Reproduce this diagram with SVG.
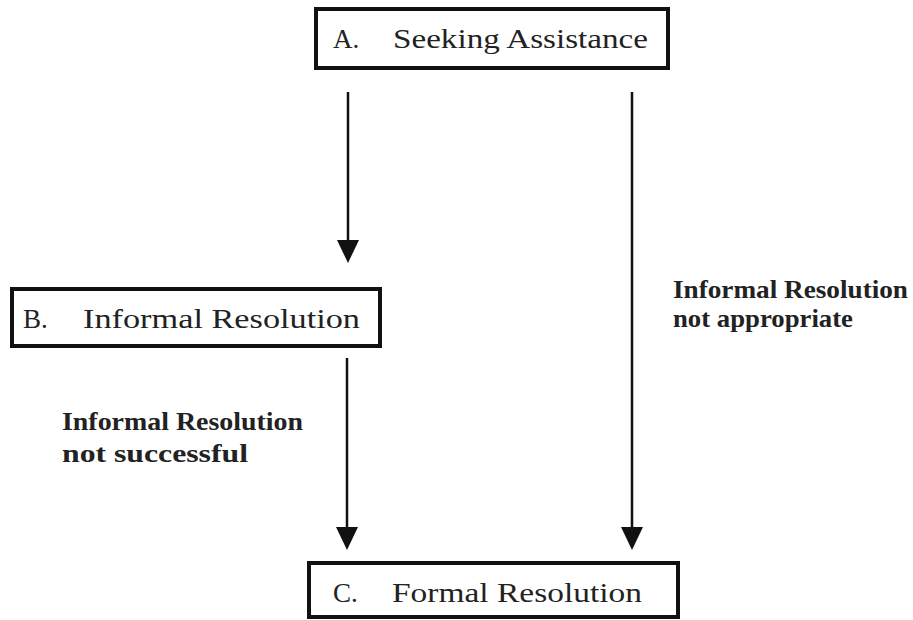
<svg xmlns="http://www.w3.org/2000/svg" width="913" height="620" viewBox="0 0 913 620">
<style>
.box{fill:#fff;stroke:#111;stroke-width:4}
.bt{font-family:"Liberation Serif","DejaVu Serif",serif;font-size:27px;fill:#222}
.lb{font-family:"Liberation Serif","DejaVu Serif",serif;font-size:25px;font-weight:bold;fill:#222}
.ln{stroke:#111;stroke-width:2.5;fill:none}
.ah{fill:#111}
</style>
<rect width="913" height="620" fill="#fff"/>
<g id="nodeA">
<rect class="box" x="316" y="9" width="352" height="59"/>
<text class="bt" x="333" y="48">A.</text>
<text class="bt" x="393" y="48" textLength="255" lengthAdjust="spacingAndGlyphs">Seeking Assistance</text>
</g>
<g id="nodeB">
<rect class="box" x="12" y="289" width="368" height="57"/>
<text class="bt" x="23" y="328">B.</text>
<text class="bt" x="83" y="328" textLength="277" lengthAdjust="spacingAndGlyphs">Informal Resolution</text>
</g>
<g id="nodeC">
<rect class="box" x="309" y="563" width="369" height="54"/>
<text class="bt" x="333" y="602">C.</text>
<text class="bt" x="392" y="602" textLength="250" lengthAdjust="spacingAndGlyphs">Formal Resolution</text>
</g>
<g id="connectors">
<line class="ln" x1="348" y1="92" x2="348" y2="245"/>
<polygon class="ah" points="337,240 359,240 348,263"/>
<line class="ln" x1="632" y1="92" x2="632" y2="532"/>
<polygon class="ah" points="621,527 643,527 632,550"/>
<line class="ln" x1="347" y1="358" x2="347" y2="532"/>
<polygon class="ah" points="336,527 358,527 347,550"/>
</g>
<g id="labels">
<text class="lb" x="673" y="298" textLength="235" lengthAdjust="spacingAndGlyphs">Informal Resolution</text>
<text class="lb" x="673" y="327" textLength="180" lengthAdjust="spacingAndGlyphs">not appropriate</text>
<text class="lb" x="62" y="430" textLength="241" lengthAdjust="spacingAndGlyphs">Informal Resolution</text>
<text class="lb" x="62" y="462" textLength="186" lengthAdjust="spacingAndGlyphs">not successful</text>
</g>
</svg>
